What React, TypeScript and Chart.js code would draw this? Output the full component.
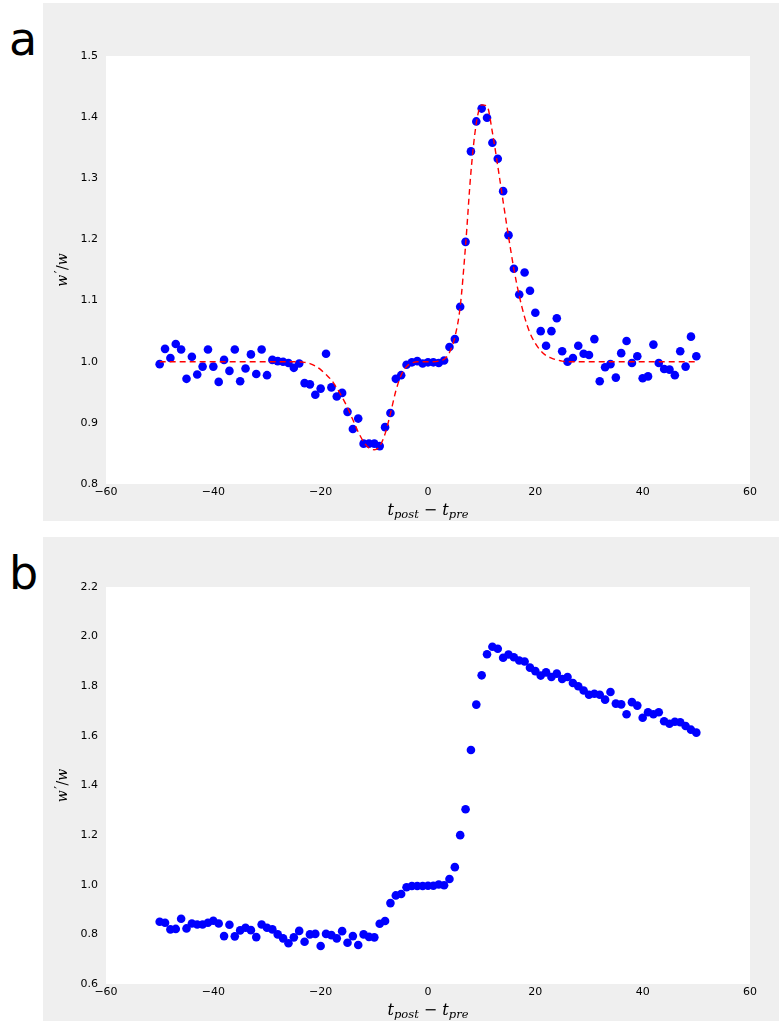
import React, { useEffect, useRef } from "react";
import { Chart, registerables } from "chart.js";

Chart.register(...registerables);

// Spike-timing lag (ms), one sample per integer lag from -50 to 50
const lags: number[] = Array.from({ length: 101 }, (_, i) => i - 50);

// Panel a: measured relative weight change w'/w
const weightChangeA: number[] = [
  0.996, 1.021, 1.006, 1.029, 1.02, 0.972, 1.008, 0.979, 0.992, 1.02,
  0.992, 0.967, 1.003, 0.985, 1.02, 0.968, 0.989, 1.012, 0.98, 1.02,
  0.978, 1.003, 1.001, 1.0, 0.998, 0.99, 0.997, 0.965, 0.963, 0.946,
  0.956, 1.013, 0.958, 0.943, 0.949, 0.918, 0.89, 0.907, 0.866, 0.866,
  0.866, 0.862, 0.893, 0.916, 0.972, 0.978, 0.995, 0.999, 1.001, 0.997,
  0.999, 0.999, 0.998, 1.002, 1.024, 1.037, 1.09, 1.196, 1.344, 1.393,
  1.414, 1.399, 1.358, 1.332, 1.279, 1.207, 1.152, 1.11, 1.146, 1.116,
  1.08, 1.05, 1.026, 1.05, 1.071, 1.017, 1.0, 1.006, 1.026, 1.013,
  1.011, 1.037, 0.968, 0.991, 0.996, 0.974, 1.014, 1.034, 0.998, 1.009,
  0.973, 0.976, 1.028, 0.998, 0.988, 0.987, 0.978, 1.017, 0.992, 1.041,
  1.009,
];

// Panel a: fitted learning window (red dashed)
const fitA: number[] = [
  1.0, 1.0, 1.0, 1.0, 1.0, 1.0, 1.0, 1.0, 1.0, 1.0,
  1.0, 1.0, 1.0, 1.0, 1.0, 1.0, 1.0, 1.0, 1.0, 1.0,
  1.0, 1.0, 1.0, 1.0, 1.0, 1.0, 1.0, 0.999, 0.997, 0.993,
  0.987, 0.979, 0.97, 0.957, 0.942, 0.925, 0.905, 0.885, 0.869, 0.859,
  0.856, 0.862, 0.882, 0.915, 0.952, 0.978, 0.992, 0.998, 1.0, 1.0,
  1.0, 1.0, 1.001, 1.004, 1.015, 1.04, 1.09, 1.19, 1.31, 1.39,
  1.42, 1.418, 1.375, 1.32, 1.262, 1.205, 1.152, 1.108, 1.073, 1.047,
  1.03, 1.018, 1.01, 1.006, 1.003, 1.001, 1.0, 1.0, 1.0, 1.0,
  1.0, 1.0, 1.0, 1.0, 1.0, 1.0, 1.0, 1.0, 1.0, 1.0,
  1.0, 1.0, 1.0, 1.0, 1.0, 1.0, 1.0, 1.0, 1.0, 1.0,
  1.0,
];

// Panel b: measured relative weight change w'/w
const weightChangeB: number[] = [
  0.851, 0.847, 0.82, 0.822, 0.863, 0.824, 0.844, 0.84, 0.84, 0.847,
  0.855, 0.844, 0.793, 0.839, 0.792, 0.816, 0.827, 0.817, 0.789, 0.84,
  0.827, 0.82, 0.8, 0.784, 0.764, 0.788, 0.814, 0.77, 0.8, 0.802,
  0.753, 0.802, 0.797, 0.784, 0.813, 0.766, 0.793, 0.757, 0.8, 0.79,
  0.788, 0.843, 0.854, 0.926, 0.957, 0.963, 0.99, 0.995, 0.995, 0.995,
  0.996, 0.996, 1.001, 0.998, 1.023, 1.071, 1.2, 1.304, 1.543, 1.726,
  1.844, 1.929, 1.959, 1.951, 1.915, 1.928, 1.917, 1.904, 1.9, 1.875,
  1.861, 1.843, 1.856, 1.837, 1.851, 1.829, 1.837, 1.813, 1.8, 1.783,
  1.766, 1.77, 1.766, 1.746, 1.777, 1.73, 1.727, 1.687, 1.736, 1.722,
  1.673, 1.695, 1.687, 1.695, 1.659, 1.649, 1.657, 1.655, 1.64, 1.625,
  1.613,
];

const xTicks: number[] = [-60, -40, -20, 0, 20, 40, 60];
const yTicksA: number[] = [0.8, 0.9, 1.0, 1.1, 1.2, 1.3, 1.4, 1.5];
const yTicksB: number[] = [0.6, 0.8, 1.0, 1.2, 1.4, 1.6, 1.8, 2.0, 2.2];

type MathPart = { text: string; size: number; italic: boolean; dy: number; dx?: number };

const MATH_FONT = '"DejaVu Serif", serif';

function partsWidth(ctx: CanvasRenderingContext2D, parts: MathPart[]) {
  let w = 0;
  for (const p of parts) {
    ctx.font = `${p.italic ? "italic " : ""}${p.size}px ${MATH_FONT}`;
    w += ctx.measureText(p.text).width + (p.dx || 0);
  }
  return w;
}

function drawParts(ctx: CanvasRenderingContext2D, parts: MathPart[], cx: number, cy: number) {
  const total = partsWidth(ctx, parts);
  let x = cx - total / 2;
  ctx.fillStyle = "#000";
  ctx.textBaseline = "alphabetic";
  ctx.textAlign = "left";
  for (const p of parts) {
    ctx.font = `${p.italic ? "italic " : ""}${p.size}px ${MATH_FONT}`;
    x += p.dx || 0;
    ctx.fillText(p.text, x, cy + p.dy);
    x += ctx.measureText(p.text).width;
  }
}

const xLabelParts: MathPart[] = [
  { text: "t", size: 16, italic: true, dy: 0 },
  { text: "post", size: 11.5, italic: true, dy: 3 },
  { text: " \u2212 ", size: 16, italic: false, dy: 0 },
  { text: "t", size: 16, italic: true, dy: 0 },
  { text: "pre", size: 11.5, italic: true, dy: 3 },
];

const yLabelParts: MathPart[] = [
  { text: "w", size: 14, italic: true, dy: 0 },
  { text: "\u2032", size: 12, italic: false, dy: -3, dx: 1.5 },
  { text: "/", size: 14, italic: false, dy: 0, dx: 0.5 },
  { text: "w", size: 14, italic: true, dy: 0 },
];

const plotAreaPlugin = {
  id: "plotArea",
  beforeDraw(chart: any) {
    const { ctx, chartArea } = chart;
    ctx.save();
    ctx.fillStyle = "#ffffff";
    ctx.fillRect(chartArea.left, chartArea.top, chartArea.right - chartArea.left, chartArea.bottom - chartArea.top);
    ctx.restore();
  },
  afterDraw(chart: any) {
    const { ctx, chartArea } = chart;
    ctx.save();
    // x-axis title
    drawParts(ctx, xLabelParts, (chartArea.left + chartArea.right) / 2, chartArea.bottom + 31);
    // y-axis title, rotated
    ctx.translate(chartArea.left - 39, (chartArea.top + chartArea.bottom) / 2);
    ctx.rotate(-Math.PI / 2);
    drawParts(ctx, yLabelParts, 0, 0);
    ctx.restore();
  },
};

const TICK_FONT = { family: '"DejaVu Sans", sans-serif', size: 11 };

function fmtX(v: number) {
  return v < 0 ? "\u2212" + Math.abs(v) : String(v);
}

function makeConfig(points: number[], fit: number[] | null, yTicks: number[], padTop: number): any {
  const datasets: any[] = [];
  if (fit) {
    datasets.push({
      type: "line",
      data: lags.map((x, i) => ({ x, y: fit[i] })),
      borderColor: "#ff0000",
      borderWidth: 1.4,
      borderDash: [6, 4],
      pointRadius: 0,
      fill: false,
      cubicInterpolationMode: "monotone",
      order: 0,
    });
  }
  datasets.push({
    type: "scatter",
    data: lags.map((x, i) => ({ x, y: points[i] })),
    backgroundColor: "#0000ff",
    borderWidth: 0,
    pointRadius: 4.3,
    order: 1,
  });
  return {
    type: "scatter",
    data: { datasets },
    plugins: [plotAreaPlugin],
    options: {
      animation: false,
      responsive: false,
      maintainAspectRatio: false,
      devicePixelRatio: 1,
      layout: { padding: { top: padTop, right: 29, left: 0, bottom: 0 } },
      plugins: { legend: { display: false }, tooltip: { enabled: false } },
      scales: {
        x: {
          type: "linear",
          min: xTicks[0],
          max: xTicks[xTicks.length - 1],
          grid: { display: false, drawTicks: false },
          border: { display: false },
          ticks: {
            font: TICK_FONT,
            color: "#000",
            padding: 2,
            maxRotation: 0,
            autoSkip: false,
            callback: (v: number) => fmtX(v),
          },
          afterBuildTicks: (s: any) => {
            s.ticks = xTicks.map((value) => ({ value }));
          },
          afterFit: (s: any) => {
            s.height = 37;
          },
        },
        y: {
          type: "linear",
          min: yTicks[0],
          max: yTicks[yTicks.length - 1],
          grid: { display: false, drawTicks: false },
          border: { display: false },
          ticks: {
            font: TICK_FONT,
            color: "#000",
            padding: 8,
            autoSkip: false,
            callback: (v: number) => Number(v).toFixed(1),
          },
          afterBuildTicks: (s: any) => {
            s.ticks = yTicks.map((value) => ({ value }));
          },
          afterFit: (s: any) => {
            s.width = 63;
          },
        },
      },
    },
  };
}

function Panel(props: {
  letter: string;
  top: number;
  height: number;
  padTop: number;
  points: number[];
  fit: number[] | null;
  yTicks: number[];
}) {
  const ref = useRef<HTMLCanvasElement | null>(null);
  useEffect(() => {
    if (!ref.current) return;
    const chart = new Chart(ref.current, makeConfig(props.points, props.fit, props.yTicks, props.padTop));
    return () => chart.destroy();
  }, []);
  return (
    <>
      <div
        style={{
          position: "absolute",
          left: 9,
          top: props.top + 13,
          fontFamily: '"DejaVu Sans", sans-serif',
          fontSize: 46,
          lineHeight: "46px",
          color: "#000",
        }}
      >
        {props.letter}
      </div>
      <div
        style={{
          position: "absolute",
          left: 43,
          top: props.top,
          width: 736,
          height: props.height,
          background: "#efefef",
        }}
      >
        <canvas ref={ref} width={736} height={props.height} style={{ display: "block" }} />
      </div>
    </>
  );
}

export default function App() {
  return (
    <div style={{ position: "absolute", left: 0, top: 0, width: 779, height: 1028 }}>
      <Panel letter="a" top={3} height={518} padTop={53} points={weightChangeA} fit={fitA} yTicks={yTicksA} />
      <Panel letter="b" top={537} height={484} padTop={50} points={weightChangeB} fit={null} yTicks={yTicksB} />
    </div>
  );
}
